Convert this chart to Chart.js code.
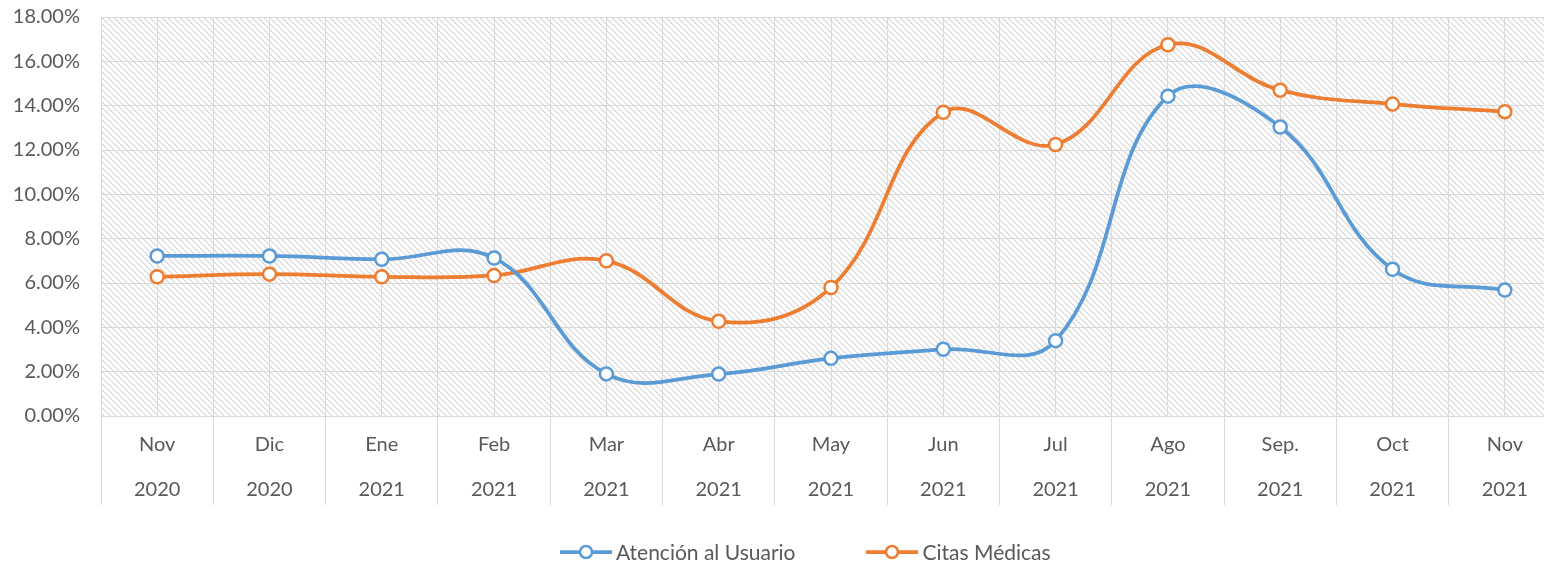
<!DOCTYPE html>
<html>
<head>
<meta charset="utf-8">
<script src="https://cdn.jsdelivr.net/npm/chart.js@4/dist/chart.umd.min.js"></script>
<style>
	html, body { margin: 0; padding: 0; background: #fff; overflow: hidden; }
	#wrap { position: relative; width: 1544px; height: 565px; overflow: hidden; }
	#chart { display: block; }
	#chart-legend { position: absolute; left: 560px; top: 539px; display: flex; gap: 71px; font: 21px Lato, sans-serif; color: #595959; }
	#chart-legend .item { display: flex; align-items: center; white-space: nowrap; }
	#chart-legend svg { margin-right: 4px; }
</style>
</head>
<body>
<div id="wrap">
	<!-- plot area runs a little past the right edge, as in the original -->
	<canvas id="chart" width="1561" height="565"></canvas>
	<div id="chart-legend"></div>
</div>
<script>
const months = ['Nov', 'Dic', 'Ene', 'Feb', 'Mar', 'Abr', 'May', 'Jun', 'Jul', 'Ago', 'Sep.', 'Oct', 'Nov'];
const years = ['2020', '2020', '2021', '2021', '2021', '2021', '2021', '2021', '2021', '2021', '2021', '2021', '2021'];

// percent values
const atencionUsuario = [7.22, 7.22, 7.07, 7.13, 1.90, 1.89, 2.60, 3.01, 3.40, 14.43, 13.04, 6.62, 5.68];
const citasMedicas = [6.28, 6.40, 6.28, 6.34, 7.00, 4.27, 5.80, 13.70, 12.25, 16.75, 14.70, 14.07, 13.73];

const labels = months.map((m, i) => [m, years[i]]);

const BLUE = '#5B9BD5';
const ORANGE = '#ED7D31';
const GRID = '#d9d9d9';
const TEXT = '#595959';

// hatch fill for the plot area
function makeHatch() {
	let n = 6;
	let c = document.createElement('canvas');
	c.width = n;
	c.height = n;
	let g = c.getContext('2d');
	g.fillStyle = '#ffffff';
	g.fillRect(0, 0, n, n);
	for (let i = 0; i < n; i++) {
		g.fillStyle = '#d4d4d4';
		g.fillRect(i, i, 1, 1);
		g.fillStyle = '#ececec';
		g.fillRect((i + 1) % n, i, 1, 1);
	}
	return c;
}

const hatchBg = {
	id: 'hatchBg',
	beforeDraw(chart) {
		const {ctx, chartArea} = chart;
		ctx.save();
		ctx.fillStyle = ctx.createPattern(makeHatch(), 'repeat');
		ctx.fillRect(chartArea.left, chartArea.top, chartArea.right - chartArea.left, chartArea.bottom - chartArea.top);
		ctx.restore();
	}
};

function lineDataset(label, data, color) {
	return {
		label: label,
		data: data,
		borderColor: color,
		backgroundColor: color,
		borderWidth: 3.75,
		tension: 0.4,
		pointRadius: 6.5,
		pointHoverRadius: 6.5,
		pointBorderWidth: 2.5,
		pointBackgroundColor: '#ffffff',
		pointBorderColor: color,
	};
}

const htmlLegend = {
	id: 'htmlLegend',
	afterUpdate(chart, args, opts) {
		const box = document.getElementById(opts.containerID);
		box.innerHTML = '';
		chart.data.datasets.forEach(ds => {
			const item = document.createElement('div');
			item.className = 'item';
			item.innerHTML =
				'<svg width="52" height="18"><line x1="0" y1="9" x2="52" y2="9" stroke="' + ds.borderColor + '" stroke-width="3.75"/>' +
				'<circle cx="26" cy="9" r="6" fill="#fff" stroke="' + ds.borderColor + '" stroke-width="2.5"/></svg>';
			const txt = document.createElement('span');
			txt.textContent = ds.label;
			item.appendChild(txt);
			box.appendChild(item);
		});
	}
};

Chart.defaults.font.family = 'Lato, sans-serif';
Chart.defaults.font.size = 20;
Chart.defaults.color = TEXT;

const chartOptions = {
	responsive: false,
	animation: false,
	layout: {
		autoPadding: false,
		padding: {top: 17, right: 0, bottom: 0, left: 0}
	},
	scales: {
		x: {
			type: 'category',
			position: 'bottom',
			offset: true,
			grid: {
				offset: true,
				color: GRID,
				tickLength: 89,
				lineWidth: 1,
			},
			border: { display: true, color: GRID },
			ticks: {
				padding: -82.5,
				maxRotation: 0,
				autoSkip: false,
				font: { size: 20, lineHeight: 2.25 },
			},
			afterFit: (scale) => {
				scale.height = 149;
				scale.paddingLeft = 0;
				scale.paddingRight = 0;
			},
		},
		xMid: {
			type: 'category',
			position: 'top',
			labels: labels,
			offset: true,
			grid: {
				offset: false,
				color: GRID,
				drawTicks: false,
			},
			border: { display: false },
			ticks: { display: false },
		},
		y: {
			min: 0,
			max: 18,
			grid: {
				color: GRID,
				drawTicks: false,
			},
			border: { display: false },
			ticks: {
				stepSize: 2,
				padding: 21,
				callback: (v) => v.toFixed(2) + '%',
			},
			afterFit: (scale) => {
				scale.width = 101;
				scale.paddingTop = 0;
				scale.paddingBottom = 0;
			},
		},
	},
	plugins: {
		legend: { display: false },
		tooltip: { enabled: false },
		htmlLegend: { containerID: 'chart-legend' },
	},
};

const ctx = document.getElementById('chart');
const chart = new Chart(ctx, {
	type: 'line',
	data: {
		labels: labels,
		datasets: [
			lineDataset('Atención al Usuario', atencionUsuario, BLUE),
			lineDataset('Citas Médicas', citasMedicas, ORANGE),
		],
	},
	options: chartOptions,
	plugins: [hatchBg, htmlLegend],
});
</script>
</body>
</html>
